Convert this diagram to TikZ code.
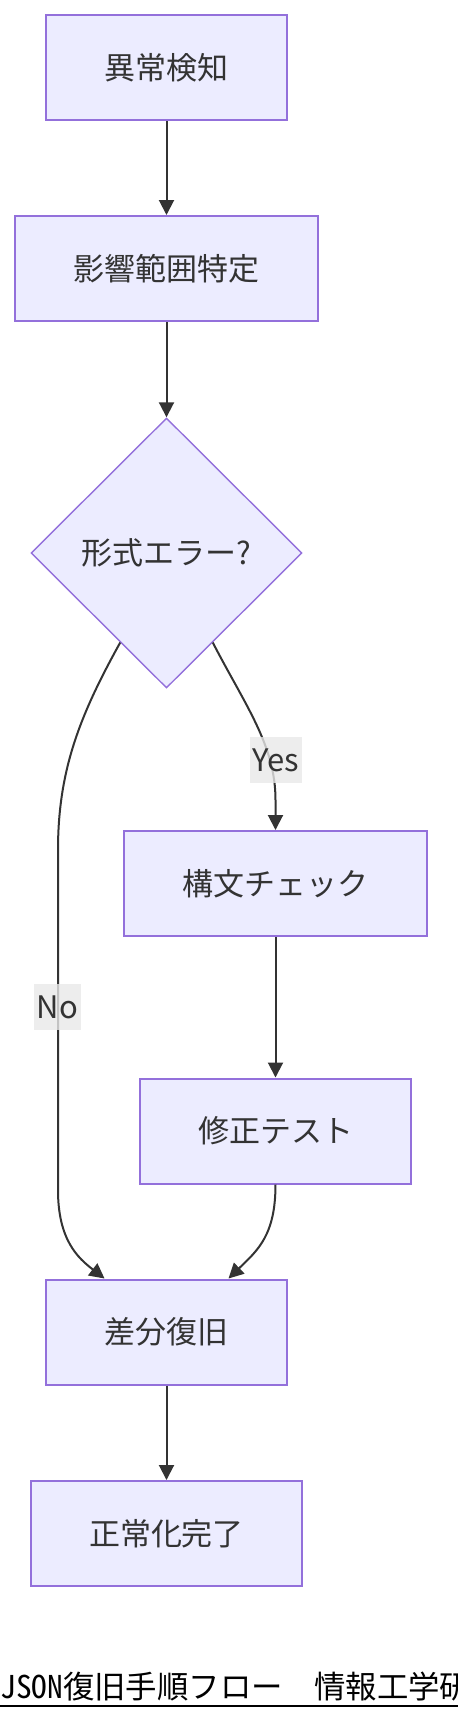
\documentclass[tikz,border=0pt]{standalone}
\usepackage{fontspec}
\setmainfont{Noto Sans CJK JP}
\newfontfamily\titlefont{Noto Sans CJK JP}
\newfontfamily\titlehalf[RawFeature=+hwid]{Noto Sans CJK JP}
\usetikzlibrary{arrows.meta,shapes.geometric,calc}
\definecolor{boxfill}{HTML}{ECECFF}
\definecolor{boxline}{HTML}{9370DB}
\definecolor{edgeline}{HTML}{333333}
\definecolor{labelbg}{HTML}{E8E8E8}

\begin{document}
\begin{tikzpicture}[x=0.5pt,y=-0.5pt,
    every node/.style={text=edgeline,font=\fontsize{15.5}{18}\selectfont},
    stepbox/.style={draw=boxline,fill=boxfill,line width=1pt,minimum height=52.5pt},
    decision/.style={diamond,draw=boxline,fill=boxfill,line width=0.7pt,
        minimum width=135.5pt,minimum height=135pt,inner sep=0pt},
    flow/.style={draw=edgeline,line width=1pt,-{Triangle[length=7.5pt,width=7.5pt]}},
    edgelabel/.style={fill=labelbg,fill opacity=0.8,text opacity=1,
        inner xsep=1.5pt,inner ysep=0pt,minimum height=23pt}]

\useasboundingbox (0,0) rectangle (458,1720);

\node[stepbox,minimum width=120.5pt] (detect) at (166.5,67.5) {異常検知};
\node[stepbox,minimum width=151.5pt] (impact) at (166.5,268.5) {影響範囲特定};
\node[decision] (check) at (166.5,553) {形式エラー?};
\node[stepbox,minimum width=151.5pt] (syntax) at (275.5,883.5) {構文チェック};
\node[stepbox,minimum width=135.5pt] (fix) at (275.5,1131) {修正テスト};
\node[stepbox,minimum width=120.5pt] (restore) at (166.5,1332) {差分復旧};
\node[stepbox,minimum width=135.5pt] (done) at (166.5,1533.5) {正常化完了};

\draw[flow] (detect) -- (impact);
\draw[flow] (impact) -- (check);
\draw[flow] ($(check.east)!0.66!(check.south)$) .. controls (245,705) and (275.5,745) .. (275.5,800) -- (syntax.north);
\draw[flow] ($(check.west)!0.66!(check.south)$) .. controls (80,715) and (58,770) .. (58,850)
    -- (58,1190) .. controls (58,1240) and (78,1258) .. ($(restore.north west)!0.245!(restore.north east)$);
\draw[flow] (syntax) -- (fix);
\draw[flow] (fix.south) .. controls (275.5,1235) and (258,1250) .. ($(restore.north west)!0.755!(restore.north east)$);
\draw[flow] (restore) -- (done);

\node[edgelabel] (yes) at (276,760) {Yes};
\node[edgelabel] (no) at (57.5,1007) {No};

\begin{scope}
\clip (0,1640) rectangle (458,1720);
\node[anchor=base west,inner sep=0pt,text=black,font=\titlefont\fontsize{15.7}{18}\selectfont]
    (title) at (0,1698) {{\titlehalf JSON}復旧手順フロー　情報工学研};
\end{scope}
\draw[line width=1pt] (0,1706) -- (458,1706);

\end{tikzpicture}
\end{document}
